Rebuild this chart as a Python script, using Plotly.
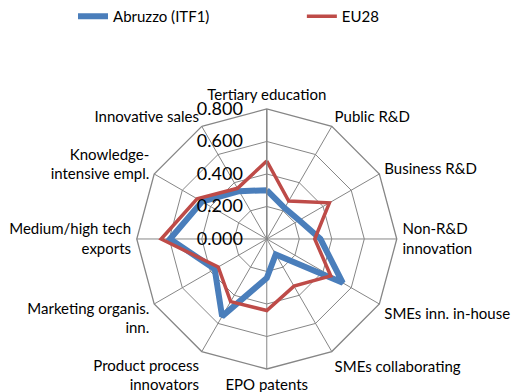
import plotly.graph_objects as go

# Regional innovation scoreboard profile: Abruzzo vs EU28
categories = [
    "Tertiary education",
    "Public R&D",
    "Business R&D",
    "Non-R&D<br>innovation",
    "SMEs inn. in-house",
    "SMEs collaborating",
    "EPO patents",
    "Product process<br>innovators",
    "Marketing organis.<br>inn.",
    "Medium/high tech<br>exports",
    "Knowledge-<br>intensive empl.",
    "Innovative sales",
]
abruzzo = [0.30, 0.22, 0.23, 0.33, 0.54, 0.11, 0.24, 0.55, 0.37, 0.595, 0.46, 0.34]
eu28 = [0.48, 0.27, 0.445, 0.295, 0.455, 0.335, 0.44, 0.445, 0.345, 0.65, 0.495, 0.36]
radial_ticks = [0.0, 0.2, 0.4, 0.6, 0.8]

FONT = "Lato"
GRID = "#868686"

fig = go.Figure()
fig.add_trace(go.Scatterpolar(
    r=abruzzo + abruzzo[:1],
    theta=categories + categories[:1],
    mode="lines",
    line=dict(color="#4A7EBB", width=6),
    name="Abruzzo (ITF1)",
    legend="legend",
))
fig.add_trace(go.Scatterpolar(
    r=eu28 + eu28[:1],
    theta=categories + categories[:1],
    mode="lines",
    line=dict(color="#BE4B48", width=3.5),
    name="EU28",
    legend="legend2",
))

legend_style = dict(
    orientation="h",
    y=1.0, xanchor="left", yanchor="top",
    font=dict(family=FONT, size=15),
    bgcolor="rgba(0,0,0,0)",
)

fig.update_layout(
    width=516,
    height=392,
    margin=dict(l=0, r=0, t=0, b=0),
    paper_bgcolor="white",
    font=dict(family=FONT, size=15, color="#000000"),
    showlegend=True,
    legend=dict(x=0.1415, **legend_style),
    legend2=dict(x=0.585, **legend_style),
    polar=dict(
        domain=dict(x=[0.265, 0.769], y=[0.0587, 0.722]),
        bgcolor="white",
        gridshape="linear",
        radialaxis=dict(
            range=[0, 0.8],
            tickvals=radial_ticks,
            tickformat=".3f",
            angle=90,
            tickangle=90,
            side="counterclockwise",
            showline=True,
            linecolor=GRID,
            linewidth=1.3,
            gridcolor=GRID,
            gridwidth=1.3,
            # invisible ticks keep the labels a little left of the spoke
            ticks="outside",
            ticklen=17,
            tickcolor="rgba(0,0,0,0)",
            tickfont=dict(family=FONT, size=18),
        ),
        angularaxis=dict(
            direction="clockwise",
            rotation=90,
            showline=True,
            linecolor=GRID,
            linewidth=1.3,
            gridcolor=GRID,
            gridwidth=1.3,
            ticks="outside",
            ticklen=2,
            tickcolor="rgba(0,0,0,0)",
            tickfont=dict(family=FONT, size=15),
        ),
    ),
)

# the page's default body margin would push the fixed-size figure out of the window
fig.write_html(
    "out.html",
    config={"displayModeBar": False},
    post_script="document.body.style.margin='0';",
)
